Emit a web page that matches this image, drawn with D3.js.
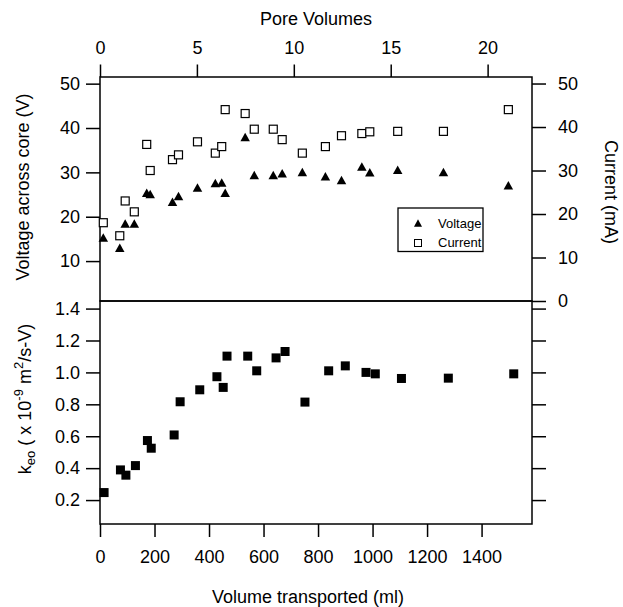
<!DOCTYPE html>
<html>
<head>
<meta charset="utf-8">
<script src="https://cdn.jsdelivr.net/npm/d3@7"></script>
<style>
  body { margin: 0; background: white; }
  svg { display: block; font-family: "Liberation Sans", Arial, sans-serif; }
  .axis text { font-size: 18px; fill: black; }
  .axis line { stroke: black; stroke-width: 1.5; }
</style>
</head>
<body>
<svg></svg>
<script>
// top panel, plotted against pore volumes
var poreVolumes = [0.17, 1.02, 1.30, 1.77, 2.41, 2.59, 3.74, 4.05, 5.03, 5.95, 6.28, 6.46,
                   7.49, 7.96, 8.94, 9.40, 10.44, 11.63, 12.46, 13.51, 13.92, 15.36, 17.72, 21.07];
var voltage = [15.3, 13.0, 18.5, 18.5, 25.4, 25.1, 23.4, 24.7, 26.6, 27.6, 27.7, 25.4,
               38.0, 29.4, 29.4, 29.8, 30.1, 29.1, 28.3, 31.3, 30.0, 30.6, 30.1, 27.1];
var current = [18.0, 15.0, 23.0, 20.5, 36.0, 30.0, 32.5, 33.6, 36.6, 34.0, 35.5, 44.0,
               43.1, 39.5, 39.5, 37.1, 34.0, 35.5, 38.0, 38.5, 38.9, 39.0, 39.0, 44.0];

// bottom panel, plotted against volume transported
var volume = [15, 75, 95, 130, 174, 188, 272, 294, 366, 429, 452, 466,
              542, 575, 646, 679, 752, 839, 900, 976, 1010, 1106, 1278, 1518];
var keo = [0.247, 0.389, 0.356, 0.416, 0.573, 0.525, 0.608, 0.816, 0.891, 0.973, 0.906, 1.102,
           1.102, 1.010, 1.091, 1.131, 0.814, 1.010, 1.041, 1.000, 0.991, 0.962, 0.964, 0.991];

var pvTicks = [0, 5, 10, 15, 20];
var volumeTicks = [0, 200, 400, 600, 800, 1000, 1200, 1400];
var voltageTicks = [10, 20, 30, 40, 50];
var currentTicks = [0, 10, 20, 30, 40, 50];
var keoTicks = [0.2, 0.4, 0.6, 0.8, 1.0, 1.2, 1.4];

var width = 623, height = 607;
var plotLeft = 100, plotRight = 532, plotTop = 77, plotMid = 301, plotBottom = 524;

var svg = d3.select('svg')
    .attr('width', width)
    .attr('height', height);

var xPv = d3.scaleLinear().domain([0, 22.29]).range([plotLeft, plotRight]);
var xVol = d3.scaleLinear().domain([0, 1585]).range([plotLeft, plotRight]);
var yV = d3.scaleLinear().domain([1, 51.5]).range([plotMid, plotTop]);
var yI = d3.scaleLinear().domain([0, 51.5]).range([plotMid, plotTop]);
var yK = d3.scaleLinear().domain([0.05, 1.4475]).range([plotBottom, plotMid]);

var addAxis = function(axis, x, y) {
  var g = svg.append('g')
      .attr('class', 'axis')
      .attr('transform', 'translate(' + x + ',' + y + ')')
      .call(axis);
  g.select('.domain').remove();
  g.attr('font-family', null).attr('font-size', null);
  return g;
}

addAxis(d3.axisTop(xPv).tickValues(pvTicks).tickSize(12.5).tickPadding(10.5), 0, plotTop);
addAxis(d3.axisBottom(xVol).tickValues(volumeTicks).tickSize(13).tickPadding(13)
    .tickFormat(d3.format('d')), 0, plotBottom);
addAxis(d3.axisLeft(yV).tickValues(voltageTicks).tickSize(14).tickPadding(6), plotLeft, 0);
addAxis(d3.axisRight(yI).tickValues(currentTicks).tickSize(14).tickPadding(12), plotRight, 0);
addAxis(d3.axisLeft(yK).tickValues(keoTicks).tickSize(14).tickPadding(6)
    .tickFormat(d3.format('.1f')), plotLeft, 0);
addAxis(d3.axisRight(yK).tickValues(keoTicks).tickSize(14).tickFormat(''), plotRight, 0);

// panel frames
svg.append('rect')
    .attr('x', plotLeft).attr('y', plotTop)
    .attr('width', plotRight - plotLeft).attr('height', plotMid - plotTop)
    .attr('fill', 'none').attr('stroke', 'black').attr('stroke-width', 1.5);
svg.append('rect')
    .attr('x', plotLeft).attr('y', plotMid)
    .attr('width', plotRight - plotLeft).attr('height', plotBottom - plotMid)
    .attr('fill', 'none').attr('stroke', 'black').attr('stroke-width', 1.5);

var triangle = function(w, h) {
  return 'M0,' + (-h / 2) + 'L' + (w / 2) + ',' + (h / 2) + 'L' + (-w / 2) + ',' + (h / 2) + 'Z';
}

var topData = poreVolumes.map(function(p, i) {
  return {pv: p, v: voltage[i], c: current[i]};
});
var bottomData = volume.map(function(v, i) {
  return {vol: v, k: keo[i]};
});

svg.selectAll('.cur')
    .data(topData)
    .enter().append('rect')
    .attr('class', 'cur')
    .attr('x', function(d) { return xPv(d.pv) - 4; })
    .attr('y', function(d) { return yI(d.c) - 4; })
    .attr('width', 8).attr('height', 8)
    .attr('fill', 'white').attr('stroke', 'black').attr('stroke-width', 1.2);

svg.selectAll('.volt')
    .data(topData)
    .enter().append('path')
    .attr('class', 'volt')
    .attr('d', triangle(9.5, 8.5))
    .attr('transform', function(d) { return 'translate(' + xPv(d.pv) + ',' + yV(d.v) + ')'; })
    .attr('fill', 'black');

svg.selectAll('.keo')
    .data(bottomData)
    .enter().append('rect')
    .attr('class', 'keo')
    .attr('x', function(d) { return xVol(d.vol) - 4.5; })
    .attr('y', function(d) { return yK(d.k) - 4.5; })
    .attr('width', 9).attr('height', 9)
    .attr('fill', 'black');

// legend
var legend = svg.append('g').attr('transform', 'translate(398,208)');
legend.append('rect')
    .attr('width', 85).attr('height', 43.5)
    .attr('fill', 'white').attr('stroke', 'black').attr('stroke-width', 1.3);
legend.append('path')
    .attr('d', triangle(8, 7.5))
    .attr('transform', 'translate(20,15)');
legend.append('rect')
    .attr('x', 16.5).attr('y', 31.5).attr('width', 7).attr('height', 7)
    .attr('fill', 'white').attr('stroke', 'black').attr('stroke-width', 1);
legend.append('text').attr('x', 40).attr('y', 19.5).attr('font-size', 13).text('Voltage');
legend.append('text').attr('x', 40).attr('y', 39).attr('font-size', 13).text('Current');

// titles
svg.append('text')
    .attr('x', 316).attr('y', 24.5)
    .attr('text-anchor', 'middle').attr('font-size', 18)
    .text('Pore Volumes');
svg.append('text')
    .attr('x', 308).attr('y', 603)
    .attr('text-anchor', 'middle').attr('font-size', 18)
    .text('Volume transported (ml)');
svg.append('text')
    .attr('transform', 'translate(29,187) rotate(-90)')
    .attr('text-anchor', 'middle').attr('font-size', 18)
    .text('Voltage across core (V)');
svg.append('text')
    .attr('transform', 'translate(605,192) rotate(90)')
    .attr('text-anchor', 'middle').attr('font-size', 18)
    .text('Current (mA)');

var kLabel = svg.append('text')
    .attr('transform', 'translate(31,399) rotate(-90)')
    .attr('text-anchor', 'middle').attr('font-size', 18);
kLabel.append('tspan').text('k');
kLabel.append('tspan').attr('font-size', 13).attr('dy', 4).text('eo');
kLabel.append('tspan').attr('dy', -4).text(' ( x 10');
kLabel.append('tspan').attr('font-size', 13).attr('dy', -8).text('-9');
kLabel.append('tspan').attr('dy', 8).text(' m');
kLabel.append('tspan').attr('font-size', 13).attr('dy', -8).text('2');
kLabel.append('tspan').attr('dy', 8).text('/s-V)');
</script>
</body>
</html>
